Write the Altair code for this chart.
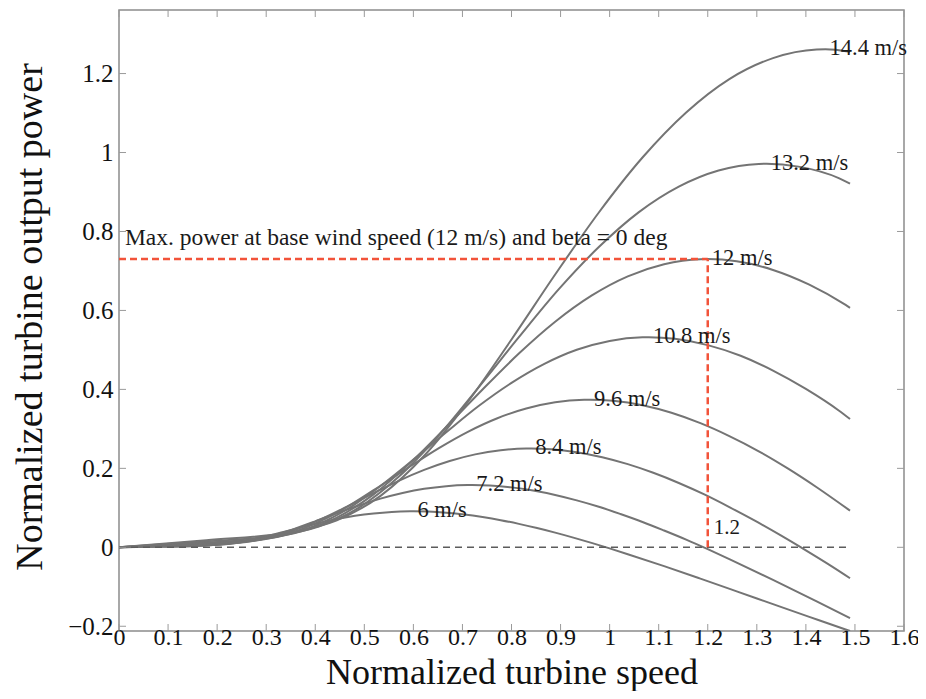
import altair as alt
import pandas as pd

FONT = "Liberation Serif"

# ---- curve data (normalized turbine speed, normalized output power) ----
SPEEDS = ["6 m/s", "7.2 m/s", "8.4 m/s", "9.6 m/s", "10.8 m/s", "12 m/s", "13.2 m/s", "14.4 m/s"]

X_6 = [0, 0.074, 0.148, 0.185, 0.222, 0.259, 0.296, 0.333, 0.370, 0.407, 0.444, 0.481, 0.519, 0.556,
       0.593, 0.600, 0.630, 0.667, 0.704, 0.741, 0.778, 0.815, 0.852, 0.889, 0.926, 0.963, 1.000, 1.037,
       1.111, 1.185, 1.259, 1.333, 1.407, 1.481, 1.49]
P_6 = [0, 0.0013, 0.0029, 0.0050, 0.0094, 0.0168, 0.0267, 0.0381, 0.0500, 0.0614, 0.0714, 0.0797, 0.0858,
       0.0896, 0.0912, 0.0913, 0.0906, 0.0878, 0.0832, 0.0767, 0.0688, 0.0594, 0.0488, 0.0372, 0.0246,
       0.0112, -0.0028, -0.0174, -0.0477, -0.0793, -0.1115, -0.1439, -0.1762, -0.2082, -0.2120]

X_72 = [0, 0.089, 0.178, 0.222, 0.267, 0.311, 0.356, 0.400, 0.444, 0.489, 0.533, 0.578, 0.622, 0.667, 0.711,
        0.720, 0.756, 0.800, 0.844, 0.889, 0.933, 0.978, 1.022, 1.067, 1.111, 1.156, 1.200, 1.244, 1.333,
        1.422, 1.49]
P_72 = [0, 0.0022, 0.0049, 0.0086, 0.0163, 0.0290, 0.0461, 0.0658, 0.0864, 0.1060, 0.1234, 0.1377, 0.1483,
        0.1549, 0.1576, 0.1577, 0.1565, 0.1518, 0.1437, 0.1326, 0.1189, 0.1027, 0.0843, 0.0642, 0.0425,
        0.0194, -0.0048, -0.0300, -0.0825, -0.1370, -0.1794]

X_84 = [0, 0.104, 0.207, 0.259, 0.311, 0.363, 0.415, 0.467, 0.519, 0.570, 0.622, 0.674, 0.726, 0.778, 0.830,
        0.840, 0.881, 0.933, 0.985, 1.037, 1.089, 1.141, 1.193, 1.244, 1.296, 1.348, 1.400, 1.452, 1.49]
P_84 = [0, 0.0035, 0.0078, 0.0136, 0.0259, 0.0460, 0.0731, 0.1045, 0.1371, 0.1683, 0.1960, 0.2186, 0.2354,
        0.2459, 0.2503, 0.2504, 0.2485, 0.2410, 0.2282, 0.2106, 0.1887, 0.1630, 0.1339, 0.1019, 0.0674,
        0.0308, -0.0077, -0.0476, -0.0783]

X_96 = [0, 0.119, 0.237, 0.296, 0.356, 0.415, 0.474, 0.533, 0.593, 0.652, 0.711, 0.770, 0.830, 0.889, 0.948,
        0.960, 1.007, 1.067, 1.126, 1.185, 1.244, 1.304, 1.363, 1.422, 1.49]
P_96 = [0, 0.0053, 0.0117, 0.0203, 0.0386, 0.0687, 0.1092, 0.1560, 0.2047, 0.2513, 0.2926, 0.3264, 0.3514,
        0.3672, 0.3736, 0.3738, 0.3710, 0.3598, 0.3407, 0.3144, 0.2817, 0.2433, 0.1999, 0.1522, 0.0928]

X_108 = [0, 0.133, 0.267, 0.333, 0.400, 0.467, 0.533, 0.600, 0.667, 0.733, 0.800, 0.867, 0.933, 1.000, 1.067,
         1.080, 1.133, 1.200, 1.267, 1.333, 1.400, 1.467, 1.49]
P_108 = [0, 0.0075, 0.0166, 0.0289, 0.0550, 0.0978, 0.1554, 0.2221, 0.2915, 0.3578, 0.4165, 0.4647, 0.5004,
         0.5228, 0.5320, 0.5322, 0.5282, 0.5122, 0.4851, 0.4476, 0.4011, 0.3465, 0.3248]

X_12 = [0, 0.148, 0.296, 0.370, 0.444, 0.519, 0.593, 0.667, 0.741, 0.815, 0.889, 0.963, 1.037, 1.111, 1.185,
        1.200, 1.259, 1.333, 1.407, 1.481, 1.49]
P_12 = [0, 0.0103, 0.0228, 0.0397, 0.0754, 0.1341, 0.2132, 0.3046, 0.3998, 0.4908, 0.5714, 0.6374, 0.6863,
        0.7171, 0.7297, 0.7300, 0.7245, 0.7026, 0.6653, 0.6139, 0.6066]

X_132 = [0, 0.163, 0.326, 0.407, 0.489, 0.570, 0.652, 0.733, 0.815, 0.896, 0.978, 1.059, 1.141, 1.222, 1.304,
         1.320, 1.385, 1.467, 1.49]
P_132 = [0, 0.0138, 0.0304, 0.0528, 0.1004, 0.1785, 0.2838, 0.4054, 0.5322, 0.6532, 0.7605, 0.8483, 0.9135,
         0.9544, 0.9712, 0.9716, 0.9643, 0.9352, 0.9210]

X_144 = [0, 0.178, 0.356, 0.444, 0.533, 0.622, 0.711, 0.800, 0.889, 0.978, 1.067, 1.156, 1.244, 1.333, 1.422,
         1.440, 1.49]
P_144 = [0, 0.0179, 0.0394, 0.0686, 0.1303, 0.2318, 0.3684, 0.5264, 0.6909, 0.8481, 0.9873, 1.1014, 1.1860,
         1.2391, 1.2609, 1.2614, 1.2551]

CURVE_X = [X_6, X_72, X_84, X_96, X_108, X_12, X_132, X_144]
CURVE_P = [P_6, P_72, P_84, P_96, P_108, P_12, P_132, P_144]

# curve labels (placed at each curve's maximum)
LABEL_X = [0.60, 0.72, 0.84, 0.96, 1.08, 1.20, 1.32, 1.44]
LABEL_P = [0.0913, 0.1577, 0.2504, 0.3738, 0.5322, 0.7300, 0.9716, 1.2614]

# reference lines and annotations
ZERO_X = [0, 1.49]
BASE_SPEED_X = 1.2
BASE_MAX_P = 0.73
NOTE_TEXT = "Max. power at base wind speed (12 m/s) and beta = 0 deg"
NOTE_X = 0.012
NOTE_P = 0.783
MARK_TEXT = "1.2"
MARK_X = 1.2
MARK_P = 0.049

X_TICKS = [0, 0.1, 0.2, 0.3, 0.4, 0.5, 0.6, 0.7, 0.8, 0.9, 1.0, 1.1, 1.2, 1.3, 1.4, 1.5, 1.6]
Y_TICKS = [-0.2, 0, 0.2, 0.4, 0.6, 0.8, 1.0, 1.2]

W, H = 785, 621

# ---- tables ----
rows = []
for name, xs, ps in zip(SPEEDS, CURVE_X, CURVE_P):
    assert len(xs) == len(ps), name
    for a, b in zip(xs, ps):
        rows.append({"speed": name, "x": a, "p": b})
curves_df = pd.DataFrame(rows)
labels_df = pd.DataFrame({"x": LABEL_X, "p": LABEL_P, "t": SPEEDS})
zero_df = pd.DataFrame({"x": ZERO_X, "p": [0, 0]})
red_df = pd.DataFrame({
    "seg": ["h", "h", "v", "v"],
    "x": [0, BASE_SPEED_X, BASE_SPEED_X, BASE_SPEED_X],
    "p": [BASE_MAX_P, BASE_MAX_P, 0, BASE_MAX_P],
})
note_df = pd.DataFrame({"x": [NOTE_X], "p": [NOTE_P], "t": [NOTE_TEXT]})
mark_df = pd.DataFrame({"x": [MARK_X], "p": [MARK_P], "t": [MARK_TEXT]})
xt_df = pd.DataFrame({"x": X_TICKS})
yt_df = pd.DataFrame({"p": Y_TICKS})

xs = alt.Scale(domain=[0, 1.6], nice=False, zero=False)
ys = alt.Scale(domain=[-0.212, 1.361], nice=False, zero=False)

x_axis = alt.Axis(
    values=X_TICKS, format="~g", grid=False, ticks=False, tickSize=0, domain=False,
    labelFont=FONT, labelFontSize=24, labelColor="#111111", labelFlush=False, labelOverlap=False,
    labelBaseline="alphabetic", labelPadding=13,
    title="Normalized turbine speed", titleFont=FONT, titleFontSize=36, titleFontWeight="normal",
    titleColor="#111111", titleX=W / 2, titleY=52, titleBaseline="alphabetic",
)
y_axis = alt.Axis(
    values=Y_TICKS, format="~g", grid=False, ticks=False, tickSize=0, domain=False,
    labelFont=FONT, labelFontSize=25, labelColor="#111111", labelFlush=False, labelOverlap=False,
    labelPadding=6,
    title="Normalized turbine output power", titleFont=FONT, titleFontSize=38,
    titleFontWeight="normal",
    titleColor="#111111", titleX=-78, titleY=H / 2 - 4, titleBaseline="alphabetic",
)
X = alt.X("x:Q", scale=xs, axis=x_axis)
Y = alt.Y("p:Q", scale=ys, axis=y_axis)

curves = alt.Chart(curves_df).mark_line(
    interpolate="monotone", color="#747474", strokeWidth=2, clip=True
).encode(x=X, y=Y, detail="speed:N")

zero = alt.Chart(zero_df).mark_line(
    color="#5c5c5c", strokeWidth=1.5, strokeDash=[7, 5]
).encode(x=X, y=Y)

red = alt.Chart(red_df).mark_line(
    color="#f2533a", strokeWidth=2.5, strokeDash=[7, 4]
).encode(x=X, y=Y, detail="seg:N")

labels = alt.Chart(labels_df).mark_text(
    font=FONT, fontSize=22.5, align="left", baseline="middle", dx=4, dy=-1, color="#1a1a1a"
).encode(x=X, y=Y, text="t:N")

note = alt.Chart(note_df).mark_text(
    font=FONT, fontSize=23.5, align="left", baseline="middle", color="#1a1a1a"
).encode(x=X, y=Y, text="t:N")

mark = alt.Chart(mark_df).mark_text(
    font=FONT, fontSize=21, align="left", baseline="middle", dx=6, color="#1a1a1a"
).encode(x=X, y=Y, text="t:N")

tick_col = "#9a9a9a"
bt = alt.Chart(xt_df).mark_rule(color=tick_col, strokeWidth=1).encode(
    x=X, y=alt.value(H), y2=alt.value(H - 7))
tt = alt.Chart(xt_df).mark_rule(color=tick_col, strokeWidth=1).encode(
    x=X, y=alt.value(0), y2=alt.value(7))
lt = alt.Chart(yt_df).mark_rule(color=tick_col, strokeWidth=1).encode(
    y=Y, x=alt.value(0), x2=alt.value(7))
rt = alt.Chart(yt_df).mark_rule(color=tick_col, strokeWidth=1).encode(
    y=Y, x=alt.value(W), x2=alt.value(W - 7))

chart = alt.layer(curves, zero, red, labels, note, mark, bt, tt, lt, rt).properties(
    width=W, height=H,
    padding={"left": 111, "top": 2, "right": 14, "bottom": 60},
    autosize=alt.AutoSizeParams(type="none"),
    background="white",
).configure_view(
    stroke="#8c8c8c", strokeWidth=1.5
).configure_axis(
    labelFont=FONT, titleFont=FONT
)

chart.save("out.html", embed_options={"renderer": "svg", "actions": False})
